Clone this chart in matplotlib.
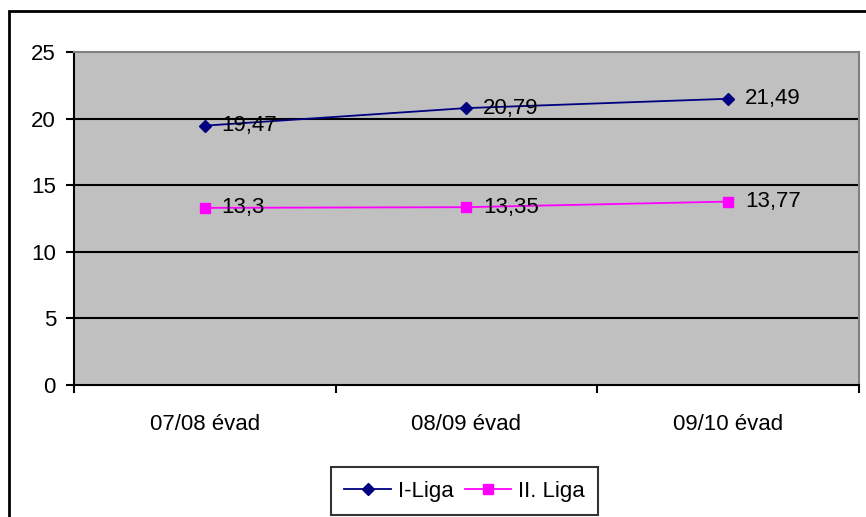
import matplotlib
matplotlib.use("Agg")
import matplotlib.pyplot as plt
from matplotlib.patches import Rectangle

categories = ["07/08 évad", "08/09 évad", "09/10 évad"]
liga1 = [19.47, 20.79, 21.49]
liga2 = [13.3, 13.35, 13.77]
liga1_labels = ["19,47", "20,79", "21,49"]
liga2_labels = ["13,3", "13,35", "13,77"]
yticks = [0, 5, 10, 15, 20, 25]

plt.rcParams['font.family'] = ['Liberation Sans', 'DejaVu Sans']
W, H = 866, 517
fig = plt.figure(figsize=(W / 100, H / 100), dpi=100)
fig.patch.set_facecolor("white")

# outer border (top/left visible)
fig.add_artist(Rectangle((8.5 / W, -0.05), 1.2, 1 - 10.5 / H + 0.05,
                         transform=fig.transFigure, fill=False,
                         edgecolor="black", linewidth=2))

ax = fig.add_axes([74 / W, 1 - 385 / H, (859 - 74) / W, (385 - 52) / H])
ax.set_facecolor("#C0C0C0")
x = list(range(len(categories)))
ax.set_xlim(-0.5, 2.5)
ax.set_ylim(0, 25)

for y in yticks[1:-1]:
    ax.axhline(y, color="black", linewidth=1.5, zorder=1)

l1, = ax.plot(x, liga1, color="#000080", marker="D", markersize=6,
              linewidth=1.3, zorder=3, label="I-Liga")
l2, = ax.plot(x, liga2, color="#FF00FF", marker="s", markersize=7.5,
              linewidth=1.3, zorder=3, label="II. Liga")

for xi, v, t in zip(x, liga1, liga1_labels):
    ax.annotate(t, (xi, v), xytext=(12, 0), textcoords="offset points",
                va="center", ha="left", fontsize=16, zorder=4)
for xi, v, t in zip(x, liga2, liga2_labels):
    ax.annotate(t, (xi, v), xytext=(12, 0), textcoords="offset points",
                va="center", ha="left", fontsize=16, zorder=4)

ax.set_yticks(yticks)
ax.set_yticklabels([str(v) for v in yticks], fontsize=16)
ax.set_xticks(x)
ax.set_xticklabels(categories, fontsize=16)
ax.set_xticks([-0.5, 0.5, 1.5, 2.5], minor=True)
ax.tick_params(axis="x", which="major", length=0, pad=21)
ax.tick_params(axis="x", which="minor", length=6, width=1.5, direction="out")
ax.tick_params(axis="y", length=6, width=1.5, direction="out", pad=7)

for s in ["top", "right"]:
    ax.spines[s].set_color("#808080")
    ax.spines[s].set_linewidth(1.5)
for s in ["left", "bottom"]:
    ax.spines[s].set_color("black")
    ax.spines[s].set_linewidth(1.5)

leg = fig.legend(handles=[l1, l2], loc="center",
                 bbox_to_anchor=(464.5 / W, 1 - 491 / H), ncol=2,
                 fontsize=16, frameon=True, fancybox=False,
                 edgecolor="black", handlelength=2.1, handletextpad=0.3,
                 columnspacing=0.5, borderpad=0.6, markerscale=1.0)
leg.get_frame().set_linewidth(1.5)

fig.savefig("out.png", dpi=100)
